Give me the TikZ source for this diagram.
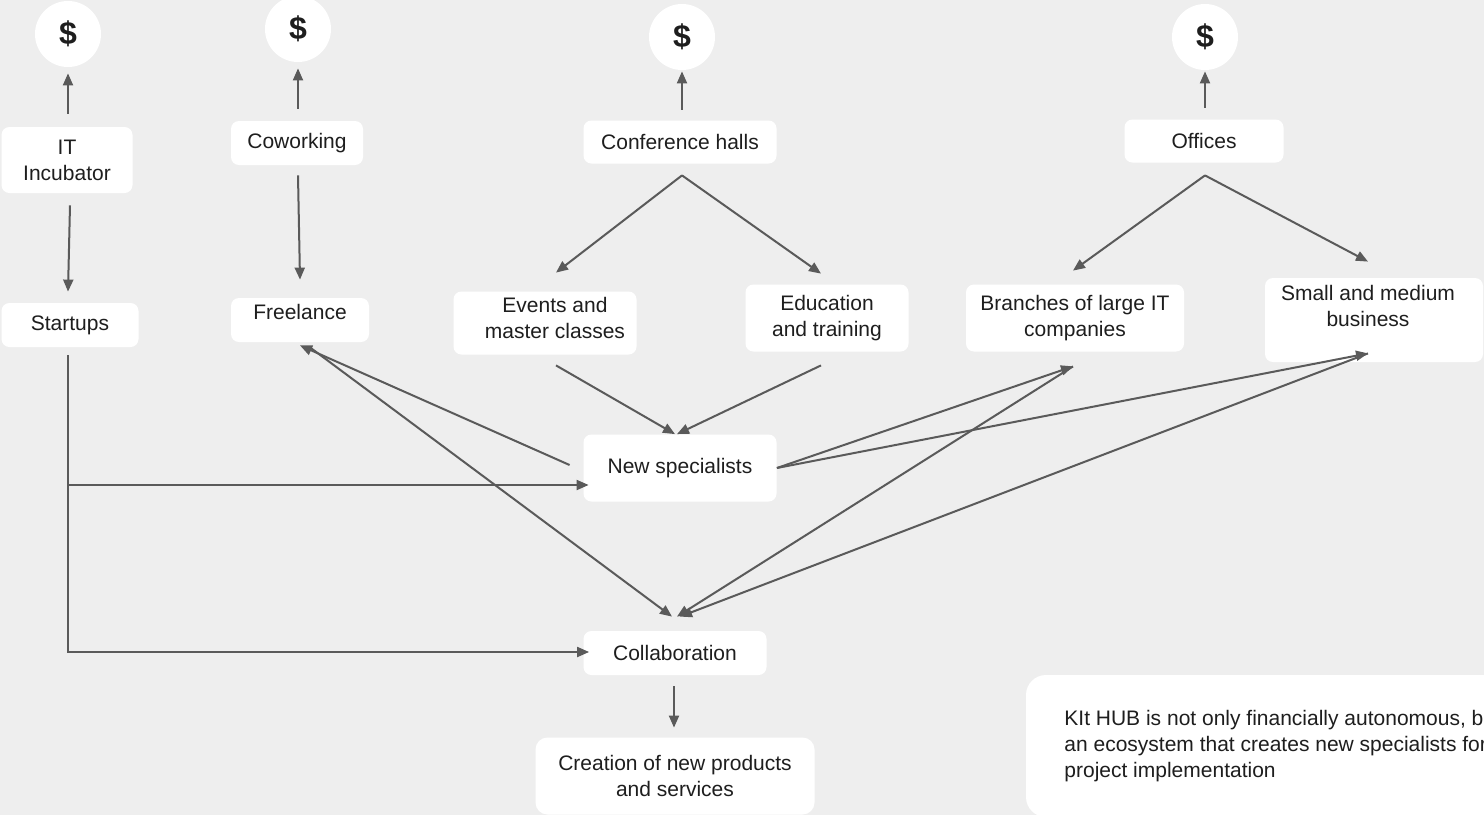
\documentclass[tikz,border=0pt]{standalone}
\usepackage{fontspec}
\setmainfont{Liberation Sans}
\usepackage{tikz}
\usetikzlibrary{arrows.meta}
\definecolor{bgGray}{RGB}{238,238,238}
\definecolor{lineGray}{RGB}{90,90,90}
\definecolor{textDark}{RGB}{30,30,30}

\begin{document}
\begin{tikzpicture}[x=0.5pt, y=-0.5pt, >={Triangle[length=6pt,width=5pt]},
    txt/.style={text=textDark, align=center, inner sep=0pt, font=\fontsize{10.5}{13}\selectfont},
    box/.style={txt, fill=white, rounded corners=4pt},
    coin/.style={circle, fill=white, minimum size=33pt, inner sep=0pt, text=textDark, font=\bfseries\fontsize{16}{18}\selectfont},
    link/.style={->, draw=lineGray, line width=1pt}]
    % background
    \clip (0,0) rectangle (1484,815);
    \fill[bgGray] (0,0) rectangle (1484,815);

    % coins
    \node[coin] (coinInc) at (68,34) {\$};
    \node[coin] (coinCow) at (298,29) {\$};
    \node[coin] (coinConf) at (682,37) {\$};
    \node[coin] (coinOff) at (1205,37) {\$};

    % top row
    \node[box, minimum width=65.5pt, minimum height=33pt] (inc) at (67,160) {IT\\Incubator};
    \node[box, minimum width=66pt, minimum height=22pt] (cowork) at (297,143) {Coworking};
    \node[box, minimum width=96.5pt, minimum height=21.5pt] (conf) at (680,142) {Conference halls};
    \node[box, minimum width=79.5pt, minimum height=21.5pt] (offices) at (1204,141) {Offices};

    % second row
    \node[box, minimum width=68.5pt, minimum height=22pt] (startups) at (70,325) {Startups};
    \node[box, minimum width=69pt, minimum height=22pt,
        label={[txt, shift={(0,-8)}]center:Freelance}] (freel) at (300,320) {};
    \node[box, minimum width=91.5pt, minimum height=31.5pt,
        label={[txt, shift={(10,-5)}]center:{Events and\\master classes}}] (events) at (545,323) {};
    \node[box, minimum width=81.5pt, minimum height=33.5pt] (edu) at (827,318) {Education\\and training};
    \node[box, minimum width=109pt, minimum height=33.5pt] (branch) at (1075,318) {Branches of large IT\\companies};
    \node[box, minimum width=109pt, minimum height=42pt,
        label={[txt, shift={(-6,-14)}]center:{Small and medium\\business}}] (small) at (1374,320) {};

    % lower part
    \node[box, minimum width=96.5pt, minimum height=33.5pt] (newspec) at (680,468) {New specialists};
    \node[box, minimum width=91.5pt, minimum height=22pt] (collab) at (675,653) {Collaboration};
    \node[box, rounded corners=6pt, minimum width=139.5pt, minimum height=38.5pt] (creation) at (675,776) {Creation of new products\\and services};

    % note
    \node[box, rounded corners=10pt, minimum width=257pt, minimum height=71pt] (kitBox) at (1283,746) {};
    \node[txt, align=left, anchor=west] (kitText) at (1064,746)
        {KIt HUB is not only financially autonomous, but also\\an ecosystem that creates new specialists for\\project implementation};

    % income arrows
    \draw[link] ([shift={(1,-13)}]inc.north) -- ([shift={(0,6)}]coinInc.south);
    \draw[link] ([shift={(1,-12)}]cowork.north) -- ([shift={(0,6)}]coinCow.south);
    \draw[link] ([shift={(2,-10.5)}]conf.north) -- ([shift={(0,1)}]coinConf.south);
    \draw[link] ([shift={(1,-11.5)}]offices.north) -- ([shift={(0,1)}]coinOff.south);

    % downward arrows
    \draw[link] ([shift={(3,12)}]inc.south) -- ([shift={(-2,-11)}]startups.north);
    \draw[link] ([shift={(1,10)}]cowork.south) -- ([shift={(0,-18)}]freel.north);
    \draw[link] ([shift={(2,11.5)}]conf.south) -- ([shift={(11,-18.5)}]events.north);
    \draw[link] ([shift={(2,11.5)}]conf.south) -- ([shift={(-6,-10.5)}]edu.north);
    \draw[link] ([shift={(1,12.5)}]offices.south) -- ([shift={(-2,-13.5)}]branch.north);
    \draw[link] ([shift={(1,12.5)}]offices.south) -- ([shift={(-6,-16)}]small.north);
    \draw[link] ([shift={(11,10.5)}]events.south) -- ([shift={(-5,0)}]newspec.north);
    \draw[link] ([shift={(-6,13.5)}]edu.south) -- ([shift={(-3,0)}]newspec.north);

    % new specialists
    \draw[link] ([shift={(-13.5,-3)}]newspec.west) -- ([shift={(0,3)}]freel.south);
    \draw[link] (newspec.east) -- ([shift={(-2,14.5)}]branch.south);
    \draw[link] (newspec.east) -- ([shift={(-6,-9)}]small.south);

    % collaboration
    \draw[link] ([shift={(10,5)}]freel.south) -- ([shift={(-3,-14)}]collab.north);
    \draw[link] ([shift={(-2,14.5)}]branch.south) -- ([shift={(2,-14)}]collab.north);
    \draw[link] ([shift={(-6,-9)}]small.south) -- ([shift={(5,-14)}]collab.north);
    \draw[link] ([shift={(-2,8)}]startups.south) |- ([shift={(5.5,17)}]newspec.west);
    \draw[link] ([shift={(-2,8)}]startups.south) |- ([shift={(6,-1)}]collab.west);
    \draw[link] ([shift={(-1,11)}]collab.south) -- ([shift={(-1,-9.5)}]creation.north);
\end{tikzpicture}
\end{document}
